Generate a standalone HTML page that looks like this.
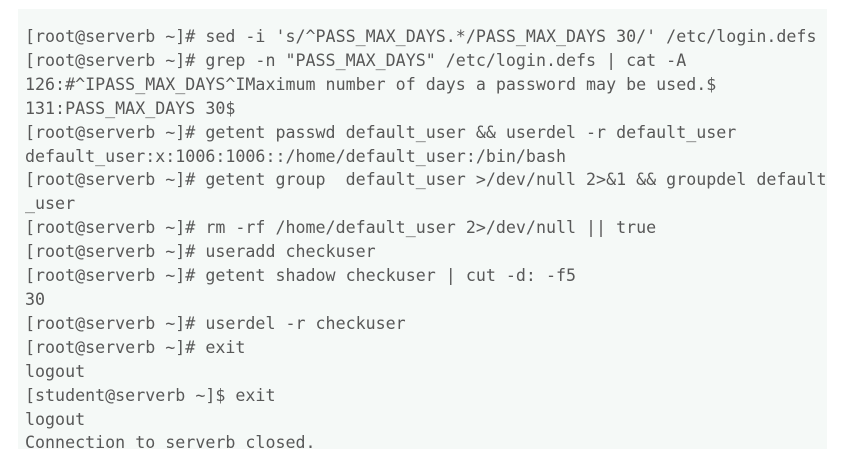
<!DOCTYPE html>
<html><head><style>
html,body{margin:0;padding:0;width:852px;height:438px;overflow:hidden;background:#fff;}
.panel{position:absolute;left:18px;top:9px;width:809px;height:440px;background:#f5f9f7;overflow:hidden;}
pre{position:absolute;left:7px;top:16px;margin:0;font-family:"DejaVu Sans Mono","Liberation Mono",monospace;font-size:16.65px;line-height:23.9px;color:#585858;}
</style></head><body>
<div class="panel"><pre>[root@serverb ~]# sed -i 's/^PASS_MAX_DAYS.*/PASS_MAX_DAYS 30/' /etc/login.defs
[root@serverb ~]# grep -n "PASS_MAX_DAYS" /etc/login.defs | cat -A
126:#^IPASS_MAX_DAYS^IMaximum number of days a password may be used.$
131:PASS_MAX_DAYS 30$
[root@serverb ~]# getent passwd default_user &amp;&amp; userdel -r default_user
default_user:x:1006:1006::/home/default_user:/bin/bash
[root@serverb ~]# getent group  default_user &gt;/dev/null 2&gt;&amp;1 &amp;&amp; groupdel default
_user
[root@serverb ~]# rm -rf /home/default_user 2&gt;/dev/null || true
[root@serverb ~]# useradd checkuser
[root@serverb ~]# getent shadow checkuser | cut -d: -f5
30
[root@serverb ~]# userdel -r checkuser
[root@serverb ~]# exit
logout
[student@serverb ~]$ exit
logout
Connection to serverb closed.</pre></div>
</body></html>
